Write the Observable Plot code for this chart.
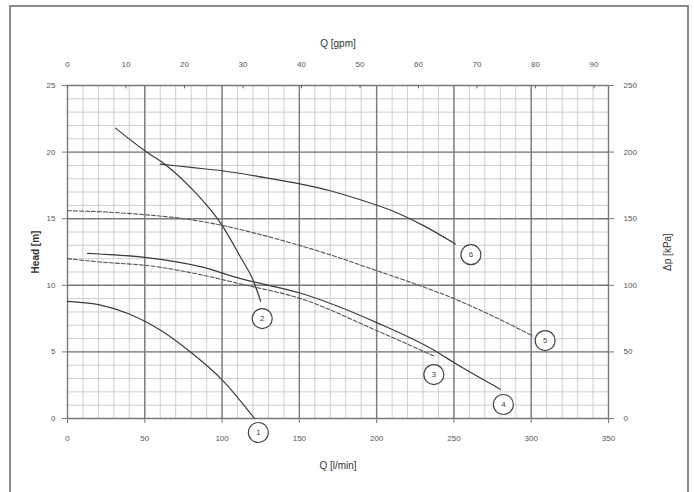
<!DOCTYPE html>
<html>
<head>
<meta charset="utf-8">
<script src="https://cdn.jsdelivr.net/npm/d3@7"></script>
<script src="https://cdn.jsdelivr.net/npm/@observablehq/plot@0.6"></script>
<style>
  html, body { margin: 0; padding: 0; background: #fff; }
  #wrap { position: relative; width: 694px; height: 492px; overflow: hidden; }
  #frame { position: absolute; left: 9px; top: 5px; width: 676px; height: 520px; border: 2px solid #8a8a8a; pointer-events: none; }
</style>
</head>
<body>
<div id="wrap"><div id="frame"></div></div>
<script>
// Flow Q in l/min, head H in m
const curve1Q = [0, 20, 40, 60, 80, 100, 121];
const curve1H = [8.8, 8.55, 7.85, 6.65, 4.95, 2.9, 0];

const curve2Q = [31, 50, 64, 80, 93, 100, 112, 120, 125];
const curve2H = [21.8, 20.1, 19.0, 17.3, 15.6, 14.5, 12.1, 10.4, 8.8];

const curve3Q = [0, 21, 54, 86, 112, 151, 200, 237];
const curve3H = [12.0, 11.75, 11.45, 10.8, 10.1, 9.0, 6.6, 4.7];

const curve4Q = [13, 21, 50, 86, 112, 151, 200, 239, 250, 280];
const curve4H = [12.4, 12.35, 12.1, 11.4, 10.5, 9.4, 7.2, 5.0, 4.2, 2.2];

const curve5Q = [0, 25, 50, 75, 100, 125, 150, 175, 200, 225, 250, 275, 301];
const curve5H = [15.6, 15.5, 15.3, 15.0, 14.5, 13.8, 13.0, 12.1, 11.1, 10.1, 9.0, 7.7, 6.2];

const curve6Q = [60, 80, 100, 127, 151, 170, 190, 210, 230, 251];
const curve6H = [19.1, 18.85, 18.6, 18.1, 17.6, 17.1, 16.4, 15.6, 14.5, 13.1];

const labelNames = ["1", "2", "3", "4", "5", "6"];
const labelQ = [123.5, 126, 237, 282, 309, 261];
const labelH = [-1.05, 7.5, 3.3, 1.05, 5.85, 12.3];

const xTicks = [0, 50, 100, 150, 200, 250, 300, 350];
const yTicks = [0, 5, 10, 15, 20, 25];
const gpmTicks = [0, 10, 20, 30, 40, 50, 60, 70, 80, 90];
const kPaTicks = [0, 50, 100, 150, 200, 250];
const LPM_PER_GPM = 3.785;

const minorX = d3.range(0, 351, 10);
const minorY = d3.range(0, 26, 1);

function toRows(Q, H, id) { return Q.map((q, i) => ({Q: q, H: H[i], id})); }
const solid = [
  ...toRows(curve1Q, curve1H, 1),
  ...toRows(curve2Q, curve2H, 2),
  ...toRows(curve4Q, curve4H, 4),
  ...toRows(curve6Q, curve6H, 6)
];
const dashed = [
  ...toRows(curve3Q, curve3H, 3),
  ...toRows(curve5Q, curve5H, 5)
];
const labels = labelNames.map((n, i) => ({n, Q: labelQ[i], H: labelH[i]}));
const gpmPos = gpmTicks.map(g => g * LPM_PER_GPM);

const chart = Plot.plot({
  width: 694, height: 492,
  marginLeft: 67, marginRight: 86, marginTop: 85, marginBottom: 74,
  x: {domain: [0, 350]},
  y: {domain: [0, 25]},
  style: {fontFamily: "'Liberation Sans', Arial, sans-serif", fontSize: "8px", color: "#555", background: "transparent"},
  marks: [
    Plot.ruleX(minorX, {stroke: "#cfcfcf", strokeWidth: 1}),
    Plot.ruleY(minorY, {stroke: "#cfcfcf", strokeWidth: 1}),
    Plot.ruleX(xTicks, {stroke: "#7a7a7a", strokeWidth: 1.4}),
    Plot.ruleY(yTicks, {stroke: "#7a7a7a", strokeWidth: 1.4}),
    Plot.ruleX(gpmPos, {y1: 25, y2: 24.75, stroke: "#666", strokeWidth: 1}),
    Plot.axisX(xTicks, {anchor: "bottom", tickSize: 5, tickPadding: 12, stroke: "#777",
      label: "Q [l/min]", labelAnchor: "center", labelOffset: 50, labelArrow: false}),
    Plot.axisX(gpmPos, {anchor: "top", tickSize: 0, tickPadding: 19,
      tickFormat: d => Math.round(d / LPM_PER_GPM),
      label: "Q [gpm]", labelAnchor: "center", labelOffset: 46, labelArrow: false}),
    Plot.axisY(yTicks, {anchor: "left", tickSize: 5, tickPadding: 7, stroke: "#777",
      label: "Head [m]", labelAnchor: "center", labelOffset: 36, labelArrow: false}),
    Plot.axisY(yTicks, {anchor: "right", tickSize: 5, tickPadding: 10, stroke: "#777",
      tickFormat: d => kPaTicks[yTicks.indexOf(d)],
      label: "Δp [kPa]", labelAnchor: "center", labelOffset: 62, labelArrow: false}),
    Plot.line(solid, {x: "Q", y: "H", z: "id", curve: "monotone-x", stroke: "#3a3a3a", strokeWidth: 1.2}),
    Plot.line(dashed, {x: "Q", y: "H", z: "id", curve: "monotone-x", stroke: "#555", strokeWidth: 1.1, strokeDasharray: "4,2"}),
    Plot.dot(labels, {x: "Q", y: "H", r: 10, fill: "white", stroke: "#444", strokeWidth: 1.2}),
    Plot.text(labels, {x: "Q", y: "H", text: "n", fontSize: 8, fill: "#444"})
  ]
});

document.getElementById("wrap").insertBefore(chart, document.getElementById("frame"));
chart.querySelectorAll('[aria-label$="axis label"] text, [aria-label$="axis label"]').forEach(el => {
  el.setAttribute("font-size", "10");
  el.setAttribute("fill", "#333");
});
const yl = chart.querySelectorAll('[aria-label="y-axis label"]');
if (yl[0]) yl[0].setAttribute("font-weight", "bold");
</script>
</body>
</html>
